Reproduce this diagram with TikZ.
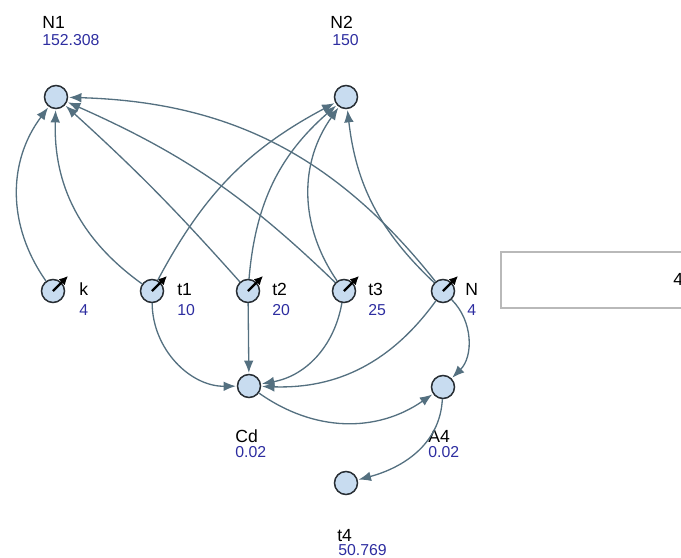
\documentclass[tikz,border=0pt]{standalone}
\usepackage{fontspec}
\setmainfont{Liberation Sans}
\usetikzlibrary{arrows.meta}

\definecolor{varfill}{RGB}{200,220,240}
\definecolor{varline}{RGB}{40,46,52}
\definecolor{linkcol}{RGB}{84,112,128}
\definecolor{valcol}{RGB}{45,45,160}
\definecolor{boxline}{RGB}{185,185,185}

\begin{document}
\begin{tikzpicture}[x=0.02cm, y=0.02cm,
    var/.style={circle, draw=varline, fill=varfill, line width=0.85pt, minimum size=0.46cm, inner sep=0pt},
    link/.style={draw=linkcol, line width=0.75pt, -{Latex[length=7pt,width=5.5pt]}, shorten >=0.5pt},
    lbl/.style={anchor=base west, inner sep=0pt, font=\fontsize{10}{12}\selectfont},
    val/.style={anchor=base west, inner sep=0pt, text=valcol, font=\fontsize{9}{11}\selectfont},
    pointer/.style={black, line width=1.4pt, -{Latex[length=5pt,width=5pt]}}]
        \clip (0,0) rectangle (681,-558);

        % variables
        \node [var] (N1) at (56,-97)  {};
        \node [var] (N2) at (346,-97) {};
        \node [var] (k)  at (53,-291) {};
        \node [var] (t1) at (152,-291) {};
        \node [var] (t2) at (248,-291) {};
        \node [var] (t3) at (344,-291) {};
        \node [var] (N)  at (443,-291) {};
        \node [var] (Cd) at (249,-386) {};
        \node [var] (A4) at (443,-387) {};
        \node [var] (t4) at (346,-483) {};

        % sliders
        \foreach \s in {k,t1,t2,t3,N}
            \draw [pointer] (\s.center) -- ++(15,15);

        % labels and values
        \node [lbl] (lN1) at (42,-28)  {N1};
        \node [val] (vN1) at (42,-45)  {152.308};
        \node [lbl] (lN2) at (330,-28) {N2};
        \node [val] (vN2) at (332,-45) {150};
        \node [lbl] (lk)  at (79,-295)  {k};
        \node [val] (vk)  at (79,-315)  {4};
        \node [lbl] (lt1) at (177,-295) {t1};
        \node [val] (vt1) at (177,-315) {10};
        \node [lbl] (lt2) at (272,-295) {t2};
        \node [val] (vt2) at (272,-315) {20};
        \node [lbl] (lt3) at (368,-295) {t3};
        \node [val] (vt3) at (368,-315) {25};
        \node [lbl] (lN)  at (465,-295) {N};
        \node [val] (vN)  at (467,-315) {4};
        \node [lbl] (lCd) at (235,-442) {Cd};
        \node [val] (vCd) at (235,-457) {0.02};
        \node [lbl] (lA4) at (428,-442) {A4};
        \node [val] (vA4) at (428,-457) {0.02};
        \node [lbl] (lt4) at (337,-541) {t4};
        \node [val] (vt4) at (338,-555) {50.769};

        % links into N1
        \draw [link] (k)  to [bend left=36]  (N1);
        \draw [link] (t1) to [bend left=28]  (N1);
        \draw [link] (t2) to [bend right=3]  (N1);
        \draw [link] (t3) to [bend right=10] (N1);
        \draw [link] (N)  to [bend right=25] (N1);

        % links into N2
        \draw [link] (t1) to [bend left=17] (N2);
        \draw [link] (t2) to [bend left=22] (N2);
        \draw [link] (t3) to [bend left=35] (N2);
        \draw [link] (N)  to [bend left=20] (N2);

        % links into Cd
        \draw [link] (t1) to [bend right=45] (Cd);
        \draw [link] (t2) -- (Cd);
        \draw [link] (t3) to [bend left=35] (Cd);
        \draw [link] (N)  to [bend left=28] (Cd);

        % the rest
        \draw [link] (N)  to [bend left=45]  (A4);
        \draw [link] (Cd) to [bend right=35] (A4);
        \draw [link] (A4) to [out=-93, in=15] (t4);

        % input box
        \draw [boxline, line width=0.6pt] (501,-252) rectangle (720,-308);
        \node [lbl] (box) at (673,-285) {4};
\end{tikzpicture}
\end{document}
